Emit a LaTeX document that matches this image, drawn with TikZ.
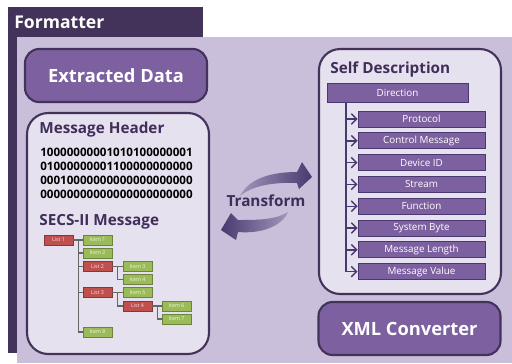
\documentclass[tikz,border=0pt]{standalone}
\usepackage{fontspec}
\setmainfont{Open Sans}
\usetikzlibrary{arrows.meta}

\definecolor{frame}{HTML}{43335A}
\definecolor{panel}{HTML}{C9BFDA}
\definecolor{boxfill}{HTML}{E6E1EE}
\definecolor{purple}{HTML}{7D60A0}
\definecolor{bardark}{HTML}{4A3870}
\definecolor{titletext}{HTML}{3F2E5A}
\definecolor{listred}{HTML}{C0504D}
\definecolor{itemgreen}{HTML}{9BBB59}

\tikzset{
  bigbox/.style={draw=frame, line width=1.2pt, fill=purple, rounded corners=8pt,
    minimum width=3.64cm, minimum height=1.06cm, text=white, font=\fontsize{10.4}{12}\selectfont\bfseries},
  lightbox/.style={draw=frame, line width=1.2pt, fill=boxfill, rounded corners=12pt},
  title/.style={anchor=west, text=titletext, font=\fontsize{8.7}{10}\selectfont\bfseries, inner sep=0pt},
  bits/.style={anchor=west, font=\fontsize{6.6}{8}\selectfont\bfseries, inner sep=0pt},
  bar/.style={draw=bardark, line width=0.5pt, fill=purple, text=white, inner sep=0pt,
    font=\fontsize{5.6}{7}\selectfont},
  treebox/.style={draw=#1!70!black, line width=0.3pt, fill=#1, text=white!85!#1, inner sep=0pt,
    minimum width=0.58cm, minimum height=0.2cm, font=\fontsize{3}{4}\selectfont},
  treeline/.style={draw=gray!80!black, line width=0.6pt},
}

\begin{document}
\begin{tikzpicture}[x=0.02cm, y=-0.02cm]
\useasboundingbox (0,0) rectangle (512,363);
\fill[white] (0,0) rectangle (512,363);
% formatter frame and panel
\fill[frame] (8,7) rectangle (203,353);
\fill[panel] (17,37) rectangle (512,363);
\node[anchor=west, text=white, inner sep=0pt, font=\fontsize{10}{12}\selectfont\bfseries] (formatter) at (14,22) {Formatter};

% left column
\node[bigbox] (extracted) at (116,75.5) {Extracted Data};
\node[lightbox, minimum width=3.64cm, minimum height=4.82cm] (header) at (118,233.5) {};
\node[title] (htitle) at (39,130) {Message Header};
\node[bits] (bits1) at (40,152) {10000000001010100000001};
\node[bits] (bits2) at (40,166) {01000000001100000000000};
\node[bits] (bits3) at (40,180) {00010000000000000000000};
\node[bits] (bits4) at (40,194) {00000000000000000000000};
\node[title] (stitle) at (39,222) {SECS-II Message};

% SECS-II tree
\node[treebox=listred] (l1) at (58.5,240) {List 1};
\node[treebox=itemgreen] (i1) at (97.5,240) {Item 1};
\node[treebox=itemgreen] (i2) at (97.5,253) {Item 2};
\node[treebox=listred] (l2) at (97.5,266.5) {List 2};
\node[treebox=itemgreen] (i3) at (137.5,266.5) {Item 3};
\node[treebox=itemgreen] (i4) at (137.5,279.5) {Item 4};
\node[treebox=listred] (l3) at (97.5,292.5) {List 3};
\node[treebox=itemgreen] (i5) at (137.5,292.5) {Item 5};
\node[treebox=listred] (l4) at (137.5,306) {List 4};
\node[treebox=itemgreen] (i6) at (176.5,306) {Item 6};
\node[treebox=itemgreen] (i7) at (176.5,319) {Item 7};
\node[treebox=itemgreen] (i8) at (97.5,332) {Item 8};
\foreach \c in {i1,i2,l2,l3,i8}
  \draw[treeline] (l1.east) -- ++(5,0) |- (\c.west);
\foreach \c in {i3,i4}
  \draw[treeline] (l2.east) -- ++(5,0) |- (\c.west);
\foreach \c in {i5,l4}
  \draw[treeline] (l3.east) -- ++(5,0) |- (\c.west);
\foreach \c in {i6,i7}
  \draw[treeline] (l4.east) -- ++(5,0) |- (\c.west);

% transform arrows
\shade[left color=panel!70!bardark, right color=bardark]
  (240,196) .. controls (248,180) and (268,172) .. (297,172)
  -- (302,162) -- (312,177) -- (299,189) -- (297,183)
  .. controls (272,182) and (252,186) .. (240,196) -- cycle;
\shade[left color=bardark, right color=panel!70!bardark]
  (288,212) .. controls (275,220) and (258,220) .. (238,220)
  -- (231,213) -- (221,230) -- (236,240) -- (238,232)
  .. controls (262,234) and (282,226) .. (288,212) -- cycle;
\node[text=titletext, font=\fontsize{8.7}{10}\selectfont\bfseries, inner sep=0pt] (transform) at (266,201) {Transform};

% right column
\node[lightbox, minimum width=3.64cm, minimum height=4.9cm] (self) at (410,171.5) {};
\node[title] (dtitle) at (330,69) {Self Description};
\node[bar, minimum width=2.82cm, minimum height=0.38cm] (dir) at (397.5,92.5) {Direction};
\foreach \t [count=\i from 0] in {Protocol,Control Message,Device ID,Stream,Function,System Byte,Message Length,Message Value}
  \node[bar, minimum width=2.54cm, minimum height=0.32cm] (b\i) at (421.5,119+21.8*\i) {\t};
\coordinate (trunk) at (346,0);
\draw[line width=0.8pt, bardark] (trunk |- dir.south) -- (trunk |- b7.west);
\foreach \i in {0,...,7}
  \draw[line width=0.8pt, bardark, -{Straight Barb[length=3pt]}] (trunk |- b\i.west) -- (b\i.west);
\node[bigbox] (xml) at (409.5,328.5) {XML Converter};
\end{tikzpicture}
\end{document}
